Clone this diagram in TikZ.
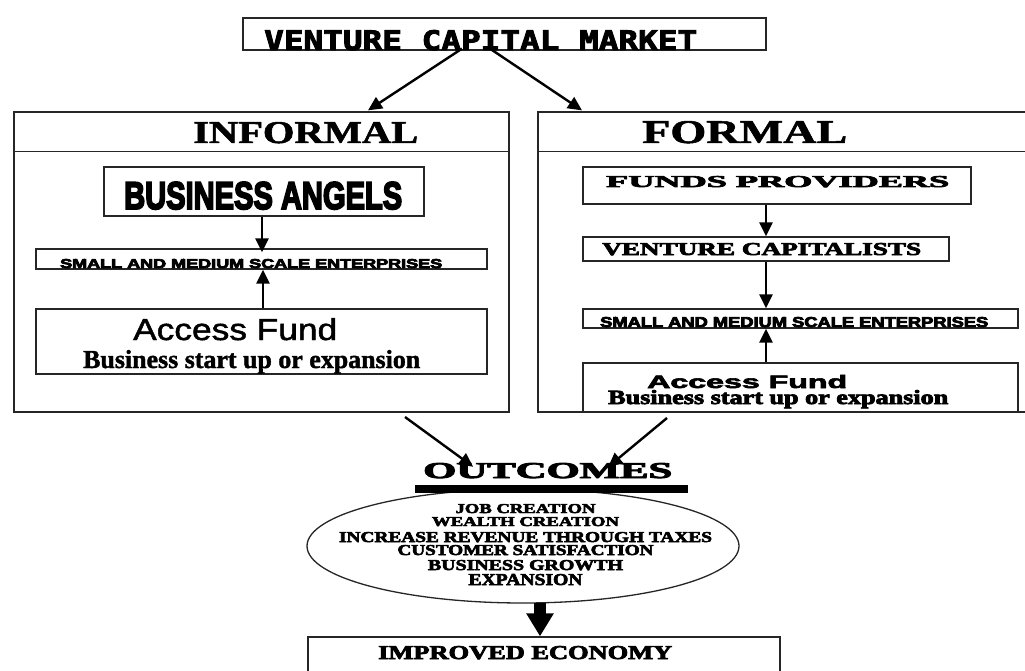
\documentclass[tikz,border=0pt]{standalone}
\usepackage{graphicx}
\usepackage{fontspec}
\setmainfont{Liberation Serif}
\newfontfamily\sansf{Liberation Sans}
\font\HS="Liberation Serif/B:embolden=3.5" at 10pt
\font\HSm="Liberation Serif/B:embolden=1.5" at 10pt
\font\HSans="Liberation Sans/B:embolden=3" at 10pt
\font\HSansH="Liberation Sans/B:embolden=5" at 10pt
\font\HSansm="Liberation Sans:embolden=1.5" at 10pt
\font\HMono="DejaVu Sans Mono/B:embolden=3" at 10pt
\usetikzlibrary{arrows.meta,shapes.geometric,calc}
\newcommand{\fitt}[3]{\resizebox{#1pt}{#2pt}{#3}}
\tikzset{
  box/.style={draw=black!85, line width=1.3pt, inner sep=0pt, rectangle},
  arr/.style={draw=black, line width=2.4pt, -{Triangle[length=14pt,width=13pt]}},
  txt/.style={inner sep=0pt, anchor=base west},
  ctxt/.style={inner sep=0pt, anchor=base},
}
\begin{document}
\begin{tikzpicture}[x=1pt,y=-1pt]
\useasboundingbox (0,0) rectangle (1025,671);
\clip (0,0) rectangle (1025,671);
\fill[white] (0,0) rectangle (1025,671);

% boxes
\node[box, minimum width=523pt, minimum height=32pt] (vcm) at (504.5,34) {};
\node[box, minimum width=495pt, minimum height=300pt] (informal) at (261.5,262) {};
\node[box, minimum width=507pt, minimum height=300pt] (formal) at (791.5,262) {};
\draw[black!85, line width=1.3pt] ($(informal.north west)+(0,40)$) -- ($(informal.north east)+(0,40)$);
\draw[black!85, line width=1.3pt] ($(formal.north west)+(0,40)$) -- ($(formal.north east)+(0,40)$);
\node[box, minimum width=320pt, minimum height=49pt] (ba) at (264,191.5) {};
\node[box, minimum width=451pt, minimum height=20pt] (sme1) at (261.5,259) {};
\node[box, minimum width=451pt, minimum height=65pt] (af1) at (261.5,341.5) {};
\node[box, minimum width=388pt, minimum height=37pt] (fp) at (777,185.5) {};
\node[box, minimum width=366pt, minimum height=24pt] (vc) at (766,249) {};
\node[box, minimum width=435pt, minimum height=19pt] (sme2) at (800.5,318.5) {};
\node[box, minimum width=435pt, minimum height=49pt] (af2) at (800.5,387.5) {};
\node[draw=black!85, line width=1.3pt, ellipse, inner sep=0pt, minimum width=432pt, minimum height=114pt] (ell) at (523,546) {};
\node[box, minimum width=472pt, minimum height=50pt] (imp) at (544,662) {};

% texts
\node[txt] (tvcm) at (264,50) {\fitt{433}{20}{\HMono VENTURE CAPITAL MARKET}};
\node[txt] (tinf) at (193,143) {\fitt{225}{21}{\HSm INFORMAL}};
\node[txt] (tfor) at (642,143) {\fitt{205}{22}{\HSm FORMAL}};
\node[txt] (tba) at (124,209) {\fitt{278}{27}{\HSansH BUSINESS ANGELS}};
\node[txt] (tsme1) at (60,268) {\fitt{382}{9}{\HSansH SMALL AND MEDIUM SCALE ENTERPRISES}};
\node[txt] (taf1a) at (133,340) {\fitt{204}{22}{\HSansm Access Fund}};
\node[txt] (taf1b) at (83,368) {\fitt{337}{18}{\HSm Business start up or expansion}};
\node[txt] (tfp) at (606,187) {\fitt{343}{11}{\HS FUNDS PROVIDERS}};
\node[txt] (tvc) at (602,255) {\fitt{319}{12}{\HS VENTURE CAPITALISTS}};
\node[txt] (tsme2) at (600,327) {\fitt{388}{10}{\HSansH SMALL AND MEDIUM SCALE ENTERPRISES}};
\node[txt] (taf2a) at (647,388) {\fitt{200}{13}{\HSans Access Fund}};
\node[txt] (taf2b) at (608,404) {\fitt{340}{14}{\HS Business start up or expansion}};
\node[txt] (tout) at (423,478) {\fitt{249}{15}{\HS OUTCOMES}};
\fill[black] ($(tout.base west)+(-8,7)$) rectangle ($(tout.base east)+(16,15)$);
\node[ctxt] (e1) at (525.5,513) {\fitt{140}{9}{\HS JOB CREATION}};
\node[ctxt] (e2) at (525.5,526) {\fitt{187}{9}{\HS WEALTH CREATION}};
\node[ctxt] (e3) at (525.5,542) {\fitt{373}{10}{\HS INCREASE REVENUE THROUGH TAXES}};
\node[ctxt] (e4) at (525.5,555) {\fitt{256}{10}{\HS CUSTOMER SATISFACTION}};
\node[ctxt] (e5) at (525.5,570) {\fitt{195}{10}{\HS BUSINESS GROWTH}};
\node[ctxt] (e6) at (525.5,585) {\fitt{114}{11}{\HS EXPANSION}};
\node[txt] (timp) at (378,659) {\fitt{294}{13}{\HS IMPROVED ECONOMY}};

% connectors
\draw[arr] ([xshift=-42.5pt,yshift=2pt]vcm.south) -- ([xshift=106.5pt,yshift=1pt]informal.north);
\draw[arr] ([xshift=-14.5pt,yshift=2pt]vcm.south) -- ([xshift=-209.5pt,yshift=1pt]formal.north);
\draw[arr] ([xshift=-2pt]ba.south) -- ([xshift=-2pt,yshift=-4pt]ba.south |- sme1.north);
\draw[arr] ([xshift=1.5pt]af1.north) -- ([xshift=1.5pt]af1.north |- sme1.south);
\draw[arr] (fp.south -| vc.north) -- (vc.north);
\draw[arr] (vc.south) -- (vc.south |- sme2.north);
\draw[arr] (af2.north -| vc.south) -- (vc.south |- sme2.south);
\coordinate (fi) at (405,417);
\coordinate (ff) at (667,418);
\draw[arr] (fi) -- ([xshift=-74.5pt,yshift=-4pt]tout.north);
\draw[arr] (ff) -- ([xshift=60.5pt,yshift=-4pt]tout.north);
\draw[black, line width=12pt, -{Triangle[length=23pt,width=26pt]}] ([xshift=17pt,yshift=1pt]ell.south) -- ([xshift=-4pt]imp.north);
\end{tikzpicture}
\end{document}
